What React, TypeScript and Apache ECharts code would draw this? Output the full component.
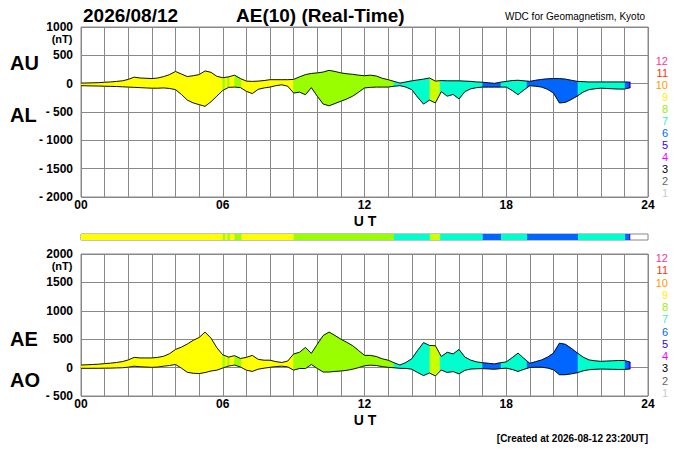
import { useEffect, useRef } from "react";
import * as echarts from "echarts";

const HOURS = [
  0, 0.25, 0.5, 0.75, 1, 1.25, 1.5, 1.75, 2, 2.25, 2.5, 2.75, 3, 3.25, 3.5, 3.75,
  4, 4.25, 4.5, 4.75, 5, 5.25, 5.5, 5.75, 6, 6.25, 6.5, 6.75, 7, 7.25, 7.5, 7.75,
  8, 8.25, 8.5, 8.75, 9, 9.25, 9.5, 9.75, 10, 10.25, 10.5, 10.75, 11, 11.25, 11.5, 11.75,
  12, 12.25, 12.5, 12.75, 13, 13.25, 13.5, 13.75, 14, 14.25, 14.5, 14.75, 15, 15.25, 15.5, 15.75,
  16, 16.25, 16.5, 16.75, 17, 17.25, 17.5, 17.75, 18, 18.25, 18.5, 18.75, 19, 19.25, 19.5, 19.75,
  20, 20.25, 20.5, 20.75, 21, 21.25, 21.5, 21.75, 22, 22.25, 22.5, 22.75, 23, 23.25,
];

const AU = [
  10, 12, 15, 18, 25, 30, 40, 50, 75, 115, 100, 95, 90, 100, 125, 160,
  215, 170, 125, 140, 160, 225, 200, 130, 105, 120, 150, 90, 45, 40, 45, 55,
  70, 70, 70, 70, 75, 120, 160, 180, 190, 205, 235, 215, 190, 175, 165, 150,
  140, 150, 135, 95, 70, 40, 10, 30, 50, 65, 80, 100, 45, 55, 50, 50,
  50, 45, 40, 30, 25, 15, 5, 25, 40, 55, 60, 50, 40, 60, 75, 85,
  90, 90, 80, 60, 40, 35, 30, 30, 30, 30, 30, 30, 30, 25,
];

const AL = [
  -35, -38, -40, -42, -45, -48, -50, -55, -60, -65, -70, -75, -80, -80, -75, -85,
  -105, -190, -290, -340, -370, -400, -320, -220, -120, -65, -60, -70, -135, -175, -100, -75,
  -60, -35, -20, -45, -165, -150, -195, -70, -220, -360, -390, -350, -310, -270, -220, -150,
  -75, -65, -60, -60, -60, -45, -35, -60, -105, -240, -360, -290, -340, -140, -220, -190,
  -270, -140, -90, -70, -60, -60, -60, -60, -60, -120, -195, -110, -35, -45, -60, -100,
  -165, -340, -330, -280, -220, -150, -105, -90, -80, -85, -90, -95, -95, -70,
];

// [start hour, end hour, colour]
const SEGMENTS: [number, number, string][] = [
  [0, 6, "#ffff00"], [6, 6.1, "#99ff00"], [6.1, 6.2, "#ffff00"], [6.2, 6.3, "#99ff00"],
  [6.3, 6.5, "#ffff00"], [6.5, 6.8, "#99ff00"], [6.8, 9, "#ffff00"], [9, 13.25, "#99ff00"],
  [13.25, 14.77, "#00ffcc"], [14.77, 15.2, "#ccff00"], [15.2, 17, "#00ffcc"], [17, 17.78, "#0066ff"],
  [17.78, 18.88, "#00ffcc"], [18.88, 21.04, "#0066ff"], [21.04, 23.03, "#00ffcc"],
  [23.03, 23.2, "#0066ff"], [23.2, 23.25, "#3300ff"],
];

const CLASS_LABELS = ["12", "11", "10", "9", "8", "7", "6", "5", "4", "3", "2", "1"];
const CLASS_COLORS = ["#ff3399", "#ff3300", "#ff9900", "#ffee00", "#99ee00", "#33eecc", "#0066ff", "#3300ff", "#ff00ff", "#000000", "#666666", "#cccccc"];

const AE = AU.map((u, i) => u - AL[i]);
const AO = AU.map((u, i) => (u + AL[i]) / 2);

const FONT = "Liberation Sans";

function interp(arr: number[], t: number) {
  for (let i = 0; i < HOURS.length - 1; i++) {
    if (t >= HOURS[i] && t <= HOURS[i + 1]) {
      const f = (t - HOURS[i]) / (HOURS[i + 1] - HOURS[i]);
      return arr[i] + f * (arr[i + 1] - arr[i]);
    }
  }
  return arr[arr.length - 1];
}

function bandSeries(upper: number[], lower: number[], idx: number) {
  return {
    type: "custom",
    xAxisIndex: idx,
    yAxisIndex: idx,
    data: SEGMENTS.map((s) => [s[0], s[1]]),
    renderItem: (params: any, api: any) => {
      const s = SEGMENTS[params.dataIndex];
      const ts = [s[0], ...HOURS.filter((h) => h > s[0] && h < s[1]), s[1]];
      const top = ts.map((t) => api.coord([t, interp(upper, t)]));
      const bot = ts.map((t) => api.coord([t, interp(lower, t)])).reverse();
      return {
        type: "polygon",
        shape: { points: [...top, ...bot] },
        style: { fill: s[2], stroke: s[2], lineWidth: 0.6 },
      };
    },
    z: 1,
  };
}

function lineSeries(vals: number[], idx: number) {
  return {
    type: "line",
    xAxisIndex: idx,
    yAxisIndex: idx,
    data: HOURS.map((h, i) => [h, vals[i]]),
    showSymbol: false,
    lineStyle: { color: "#111", width: 1 },
    z: 3,
  };
}

const xAxisCommon = (gridIndex: number) => ({
  type: "value",
  gridIndex,
  min: 0,
  max: 24,
  interval: 1,
  axisLine: { lineStyle: { color: "#888" } },
  axisTick: { show: false },
  splitLine: { show: true, lineStyle: { color: "#888", width: 1 } },
  axisLabel: {
    color: "#000",
    fontFamily: FONT,
    fontWeight: "bold",
    fontSize: 12,
    margin: 2,
    formatter: (v: number) => (v % 6 === 0 ? String(v).padStart(2, "0") : ""),
  },
});

const yLabel = (v: number) => (v < 0 ? "- " + Math.abs(v) : String(v));

export default function App() {
  const ref = useRef<HTMLDivElement>(null);
  useEffect(() => {
    document.body.style.margin = "0";
    if (!ref.current) return;
    const chart = echarts.init(ref.current, null, { renderer: "svg" });
    const txt = (text: string, x: number, y: number, size: number, extra: any = {}) => ({
      type: "text",
      x,
      y,
      style: { text, fontFamily: FONT, fontWeight: "bold", fontSize: size, fill: "#000", textVerticalAlign: "middle", ...extra },
    });
    const graphics: any[] = [
      txt("2026/08/12", 83, 15, 19),
      txt("AE(10) (Real-Time)", 236, 15, 19),
      txt("WDC for Geomagnetism, Kyoto", 645, 16, 10, { textAlign: "right", fontWeight: "normal" }),
      txt("AU", 10, 63, 20),
      txt("AL", 10, 115, 20),
      txt("AE", 10, 339, 20),
      txt("AO", 10, 380, 20),
      txt("(nT)", 62, 39, 11, { textAlign: "center" }),
      txt("(nT)", 62, 266, 11, { textAlign: "center" }),
      txt("U T", 365, 221, 14, { textAlign: "center" }),
      txt("U T", 365, 420, 14, { textAlign: "center" }),
      txt("[Created at 2026-08-12 23:20UT]", 648, 438, 10, { textAlign: "right" }),
    ];
    CLASS_LABELS.forEach((l, i) => {
      graphics.push(txt(l, 668, 61 + i * 12, 11, { textAlign: "right", fill: CLASS_COLORS[i], fontWeight: "normal" }));
      graphics.push(txt(l, 668, 258 + i * 12.27, 11, { textAlign: "right", fill: CLASS_COLORS[i], fontWeight: "normal" }));
    });
    chart.setOption({
      animation: false,
      grid: [
        { left: 81, right: 52, top: 27, height: 170, show: true, borderColor: "#888" },
        { left: 81, right: 52, top: 234, height: 6, show: true, borderColor: "#888" },
        { left: 81, right: 52, top: 254, height: 142, show: true, borderColor: "#888" },
      ],
      xAxis: [xAxisCommon(0), { type: "value", gridIndex: 1, min: 0, max: 24, show: false }, xAxisCommon(2)],
      yAxis: [
        {
          type: "value", gridIndex: 0, min: -2000, max: 1000, interval: 500,
          axisLine: { show: false }, axisTick: { show: false },
          splitLine: { lineStyle: { color: "#888" } },
          axisLabel: { color: "#000", fontFamily: FONT, fontWeight: "bold", fontSize: 12, margin: 8, formatter: yLabel },
        },
        { type: "value", gridIndex: 1, min: 0, max: 1, show: false },
        {
          type: "value", gridIndex: 2, min: -500, max: 2000, interval: 500,
          axisLine: { show: false }, axisTick: { show: false },
          splitLine: { lineStyle: { color: "#888" } },
          axisLabel: { color: "#000", fontFamily: FONT, fontWeight: "bold", fontSize: 12, margin: 8, formatter: yLabel },
        },
      ],
      series: [
        bandSeries(AU, AL, 0),
        lineSeries(AU, 0),
        lineSeries(AL, 0),
        {
          type: "custom",
          xAxisIndex: 1,
          yAxisIndex: 1,
          data: SEGMENTS.map((s) => [s[0], s[1]]),
          renderItem: (params: any, api: any) => {
            const s = SEGMENTS[params.dataIndex];
            const a = api.coord([s[0], 1]);
            const b = api.coord([s[1], 0]);
            return { type: "rect", shape: { x: a[0], y: a[1], width: b[0] - a[0], height: b[1] - a[1] }, style: { fill: s[2] } };
          },
        },
        bandSeries(AE, AO, 2),
        lineSeries(AE, 2),
        lineSeries(AO, 2),
      ],
      graphic: graphics,
    });
    return () => chart.dispose();
  }, []);
  return <div ref={ref} style={{ width: 700, height: 450 }} />;
}
